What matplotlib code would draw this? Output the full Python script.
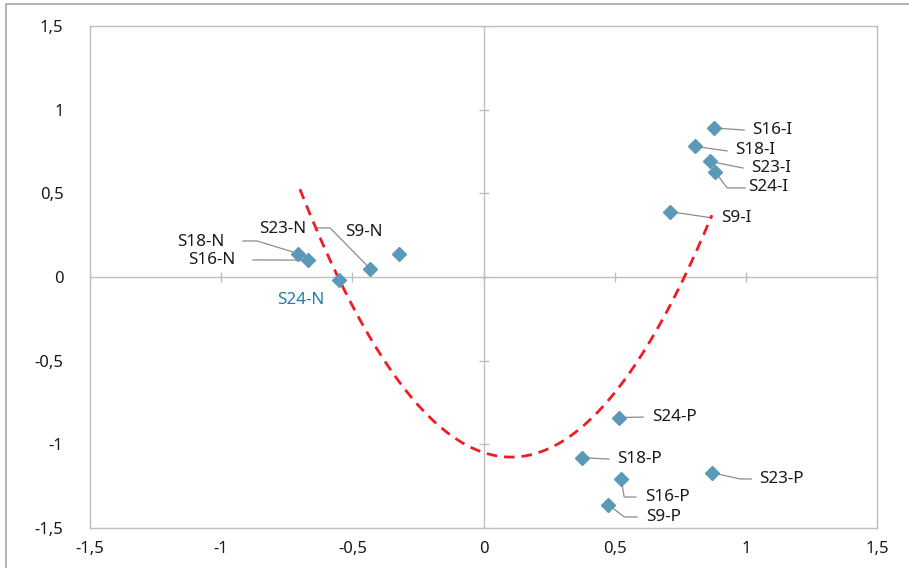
import numpy as np
import matplotlib.pyplot as plt
from matplotlib.patches import Rectangle

plt.rcParams["font.family"] = ["Noto Sans", "DejaVu Sans"]

# data
names = ["S16-I", "S18-I", "S23-I", "S24-I", "S9-I",
         "S18-N", "S16-N", "S23-N", "S9-N", "S24-N",
         "S24-P", "S18-P", "S23-P", "S16-P", "S9-P"]
x_vals = [0.879, 0.806, 0.864, 0.882, 0.711,
          -0.707, -0.669, -0.433, -0.322, -0.551,
          0.517, 0.376, 0.871, 0.524, 0.475]
y_vals = [0.89, 0.78, 0.69, 0.63, 0.39,
          0.14, 0.10, 0.05, 0.14, -0.02,
          -0.84, -1.08, -1.17, -1.21, -1.36]

# polynomial trendline y = a*x^2 + b*x + c, drawn from x = -0.7 to 0.87
trend_coef = [2.47, -0.519, -1.049]
trend_range = [-0.70, 0.87]

ticks = [-1.5, -1, -0.5, 0, 0.5, 1, 1.5]

# label placement: text position, alignment, leader path (ends at the marker)
label_pos = {
    "S16-I": (1.023, 0.878, "left", [(0.993, 0.878)]),
    "S18-I": (0.959, 0.759, "left", [(0.928, 0.753)]),
    "S23-I": (1.020, 0.651, "left", [(0.989, 0.651)]),
    "S24-I": (1.008, 0.538, "left", [(0.997, 0.532), (0.928, 0.532)]),
    "S9-I": (0.905, 0.353, "left", [(0.871, 0.353)]),
    "S18-N": (-0.989, 0.209, "right", [(-0.917, 0.215), (-0.863, 0.215)]),
    "S16-N": (-0.947, 0.102, "right", [(-0.879, 0.102)]),
    "S23-N": (-0.677, 0.287, "right", [(-0.635, 0.293), (-0.585, 0.293)]),
    "S9-N": (-0.528, 0.269, "left", []),
    "S24-N": (-0.787, -0.137, "left", []),
    "S24-P": (0.642, -0.837, "left", [(0.608, -0.837)]),
    "S18-P": (0.509, -1.088, "left", [(0.478, -1.088)]),
    "S23-P": (1.050, -1.207, "left", [(1.020, -1.207), (0.978, -1.207)]),
    "S16-P": (0.616, -1.315, "left", [(0.581, -1.315), (0.536, -1.315)]),
    "S9-P": (0.619, -1.434, "left", [(0.585, -1.434), (0.536, -1.434)]),
}

fig = plt.figure(figsize=(9.09, 5.68), dpi=100)
ax = fig.add_axes([0.099, 0.0704, 0.866, 0.884])

# outer chart border
fig.patches.append(Rectangle((6 / 909, -0.1), 1.2, 1.1 - 4 / 568,
                             transform=fig.transFigure, fill=False,
                             edgecolor="#a6a6a6", linewidth=1.2))

grey = "#bfbfbf"
ax.axhline(0, color=grey, linewidth=1, zorder=1)
ax.axvline(0, color=grey, linewidth=1, zorder=1)
ax.plot(ticks, [0] * len(ticks), linestyle="none", marker="|",
        markersize=7, color=grey, zorder=1)
ax.plot([0] * len(ticks), ticks, linestyle="none", marker="_",
        markersize=7, color=grey, zorder=1)

# leader lines
for name, xv, yv in zip(names, x_vals, y_vals):
    tx, ty, ha, path = label_pos[name]
    if path:
        px = [p[0] for p in path] + [xv]
        py = [p[1] for p in path] + [yv]
        ax.plot(px, py, color="#8c8c8c", linewidth=0.9, zorder=2)
    color = "#1f7ea6" if name == "S24-N" else "#1a1a1a"
    ax.text(tx, ty, name, ha=ha, va="center", fontsize=12.3, color=color)

xs = np.linspace(trend_range[0], trend_range[1], 200)
ax.plot(xs, np.polyval(trend_coef, xs), color="#ee1c25", linewidth=2,
        linestyle=(0, (3.8, 2.5)), zorder=3)

ax.plot(x_vals, y_vals, linestyle="none", marker="D", markersize=7,
        color="#5b99b8", zorder=4)

ax.set_xlim(-1.5, 1.5)
ax.set_ylim(-1.5, 1.5)
ax.set_xticks(ticks)
ax.set_yticks(ticks)
fmt = lambda v: ("%g" % v).replace(".", ",")
ax.set_xticklabels([fmt(t) for t in ticks])
ax.set_yticklabels([fmt(t) for t in ticks])
ax.tick_params(length=0, labelsize=12, colors="#1a1a1a")
ax.tick_params(axis="y", pad=19)
ax.tick_params(axis="x", pad=9)
for s in ax.spines.values():
    s.set_color(grey)
    s.set_linewidth(1)

fig.savefig("out.png", dpi=100)
